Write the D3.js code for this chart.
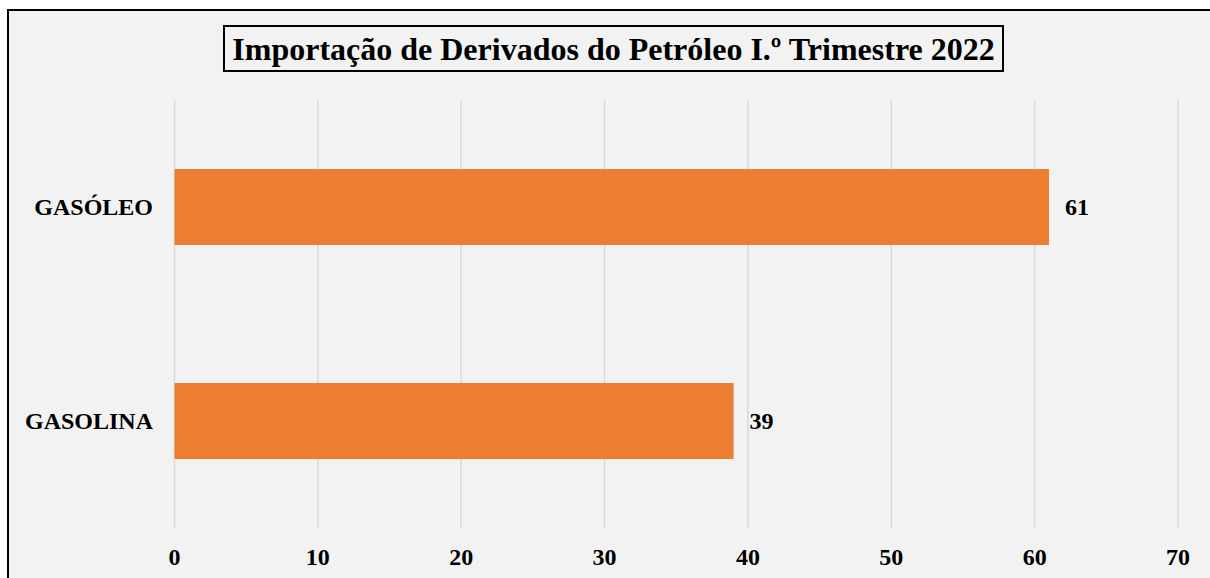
<!DOCTYPE html>
<html>
<head>
<meta charset="utf-8">
<script src="https://cdn.jsdelivr.net/npm/d3@7"></script>
<style>
    body { margin: 0; background: #ffffff; }
    svg text { font-family: "Liberation Serif", "Times New Roman", serif; font-weight: bold; fill: #000; }
</style>
</head>
<body>
<div id="chart"></div>
<script>
const categories = ["GASÓLEO", "GASOLINA"];
const values = [61, 39];
const tickValues = [0, 10, 20, 30, 40, 50, 60, 70];
const title = "Importação de Derivados do Petróleo I.º Trimestre 2022";

const width = 1210, height = 578;

const svg = d3.select("#chart").append("svg")
    .attr("width", width)
    .attr("height", height);

// chart frame (runs past the bottom/right edge of the picture)
svg.append("rect")
    .attr("x", 8).attr("y", 10)
    .attr("width", 1240).attr("height", 620)
    .attr("fill", "#f2f2f2")
    .attr("stroke", "#000")
    .attr("stroke-width", 2);

const x = d3.scaleLinear().domain([0, 70]).range([174.5, 1178]);
const y = d3.scaleBand().domain(categories).range([100, 528])
    .paddingInner(0.645).paddingOuter(0.3225);

// gridlines
svg.append("g").selectAll("line")
    .data(tickValues)
    .join("line")
    .attr("x1", d => x(d)).attr("x2", d => x(d))
    .attr("y1", 100).attr("y2", 528)
    .attr("stroke", "#d9d9d9")
    .attr("stroke-width", 1.5);

// bars
svg.append("g").selectAll("rect")
    .data(values)
    .join("rect")
    .attr("x", x(0))
    .attr("y", (d, i) => y(categories[i]))
    .attr("width", d => x(d) - x(0))
    .attr("height", y.bandwidth())
    .attr("fill", "#ed7d31");

// value labels
svg.append("g").selectAll("text")
    .data(values)
    .join("text")
    .attr("x", d => x(d) + 16)
    .attr("y", (d, i) => y(categories[i]) + y.bandwidth() / 2)
    .attr("dy", "0.35em")
    .attr("font-size", 24)
    .text(d => d);

// category labels
svg.append("g").selectAll("text")
    .data(categories)
    .join("text")
    .attr("x", 153)
    .attr("y", d => y(d) + y.bandwidth() / 2)
    .attr("dy", "0.35em")
    .attr("text-anchor", "end")
    .attr("font-size", 24)
    .text(d => d);

// x tick labels
svg.append("g").selectAll("text")
    .data(tickValues)
    .join("text")
    .attr("x", d => x(d))
    .attr("y", 565)
    .attr("text-anchor", "middle")
    .attr("font-size", 24)
    .text(d => d);

// title with box
svg.append("rect")
    .attr("x", 224).attr("y", 26)
    .attr("width", 779).attr("height", 45)
    .attr("fill", "#f2f2f2")
    .attr("stroke", "#000")
    .attr("stroke-width", 2);
svg.append("text")
    .attr("x", 613.5)
    .attr("y", 60)
    .attr("text-anchor", "middle")
    .attr("font-size", 32)
    .text(title);
</script>
</body>
</html>
